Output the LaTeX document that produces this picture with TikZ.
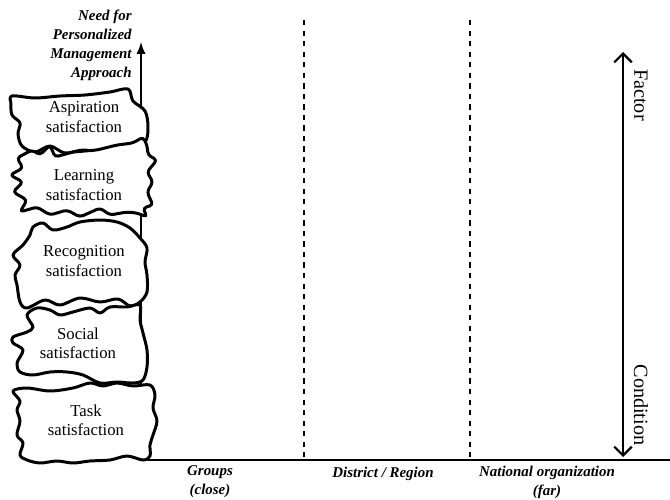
\documentclass[tikz,border=0pt]{standalone}
\usepackage{fontspec}
\setmainfont{Liberation Serif}
\usetikzlibrary{arrows.meta}

\tikzset{
  blobline/.style={line width=1.7pt, line join=round, fill=white},
  blobtext/.style={align=center, inner sep=0pt, font=\fontsize{9.5}{11}\selectfont},
  axislabel/.style={font=\fontsize{8.5}{10.8}\selectfont\bfseries\itshape, inner sep=0pt},
  sidelabel/.style={font=\fontsize{11.5}{14}\selectfont, rotate=-90, inner sep=0pt},
}

\begin{document}
\begin{tikzpicture}[>=latex, x=0.02cm, y=-0.02cm]
\useasboundingbox (0,0) rectangle (670,500);

% axes
\coordinate (O) at (141,460);
\coordinate (ytop) at (141,42);
\coordinate (xend) at (670,460);
\draw[line width=1.3pt] (O)--(xend);
\draw[line width=1.3pt, ->] (O)--(ytop);

% distance bands
\foreach \x/\n in {304/a,470/b}
{
    \coordinate (d\n top) at (\x,20);
    \coordinate (d\n bot) at (\x,460);
    \draw[dashed, line width=0.6pt] (d\n top)--(d\n bot);
}

% factor / condition
\coordinate (ftop) at (623,52);
\coordinate (fbot) at (623,457);
\draw[line width=1.3pt, {Straight Barb[length=5pt,width=10pt]}-{Straight Barb[length=5pt,width=10pt]}] (ftop)--(fbot);
\node[sidelabel] (factor) at (641,95) {Factor};
\node[sidelabel] (cond) at (641,405) {Condition};

% labels
\node[axislabel, align=right, anchor=east] (need) at (132,45)
    {Need for\\Personalized\\Management\\Approach};
\node[axislabel, align=center] (groups) at (210,482) {Groups\\(close)};
\node[axislabel] (district) at (383,474) {District / Region};
\node[axislabel, align=center] (national) at (547,482) {National organization\\(far)};

% satisfaction levels
\draw[blobline] plot[smooth cycle, tension=0.55] coordinates {(12,96) (35,98) (60,96) (85,95)
  (110,92) (128,89) (133,101) (145,111) (148,127) (145,142) (128,150) (110,156) (85,150)
  (65,153) (50,146) (35,152) (22,146) (18,134) (20,123) (12,115) (11,104)};
\node[blobtext] (asp) at (84,117) {Aspiration\\satisfaction};

\draw[blobline, rounded corners=2pt] (17,158)--(32,150)--(40,155)--(50,145)--(55,157)--(73,152)
  --(97,150)--(117,145)--(133,143)--(143,137)--(147,145)--(148,155)--(157,160)--(147,172)
  --(153,182)--(147,192)--(153,205)--(143,208)--(147,217)--(137,213)--(127,212)--(110,215)
  --(100,208)--(80,217)--(67,210)--(50,215)--(37,207)--(20,212)--(27,200)--(13,192)
  --(23,182)--(10,175)--(23,168)--cycle;
\node[blobtext] (learn) at (84,185) {Learning\\satisfaction};

\draw[blobline] plot[smooth cycle, tension=0.55] coordinates {(33,227) (43,223) (53,230) (67,227)
  (80,222) (100,220) (117,222) (130,228) (140,238) (147,248) (145,262) (147,275) (147,292)
  (140,302) (130,306) (118,299) (100,302) (80,298) (60,305) (45,300) (27,308) (20,302)
  (17,285) (15,275) (20,265) (13,255) (23,245) (30,235)};
\node[blobtext] (recog) at (84,261) {Recognition\\satisfaction};

\draw[blobline] plot[smooth cycle, tension=0.55] coordinates {(27,315) (37,308) (50,310) (60,315)
  (73,312) (90,308) (100,313) (110,307) (127,307) (140,305) (140,320) (143,333) (147,350)
  (147,367) (143,380) (133,383) (117,382) (100,383) (83,375) (67,372) (50,372) (33,375)
  (20,372) (17,363) (23,350) (13,343) (13,337) (27,332) (33,327)};
\node[blobtext] (social) at (78,343) {Social\\satisfaction};

\draw[blobline] plot[smooth cycle, tension=0.55] coordinates {(13,391) (27,388) (50,391) (73,388)
  (90,383) (103,386) (117,383) (133,386) (150,385) (155,395) (153,408) (157,421) (153,435)
  (150,445) (150,456) (143,460) (127,456) (110,460) (90,461) (73,463) (57,461) (40,463)
  (27,460) (20,455) (23,443) (17,435) (20,421) (17,410) (20,401)};
\node[blobtext] (task) at (86,420) {Task\\satisfaction};

\end{tikzpicture}
\end{document}
